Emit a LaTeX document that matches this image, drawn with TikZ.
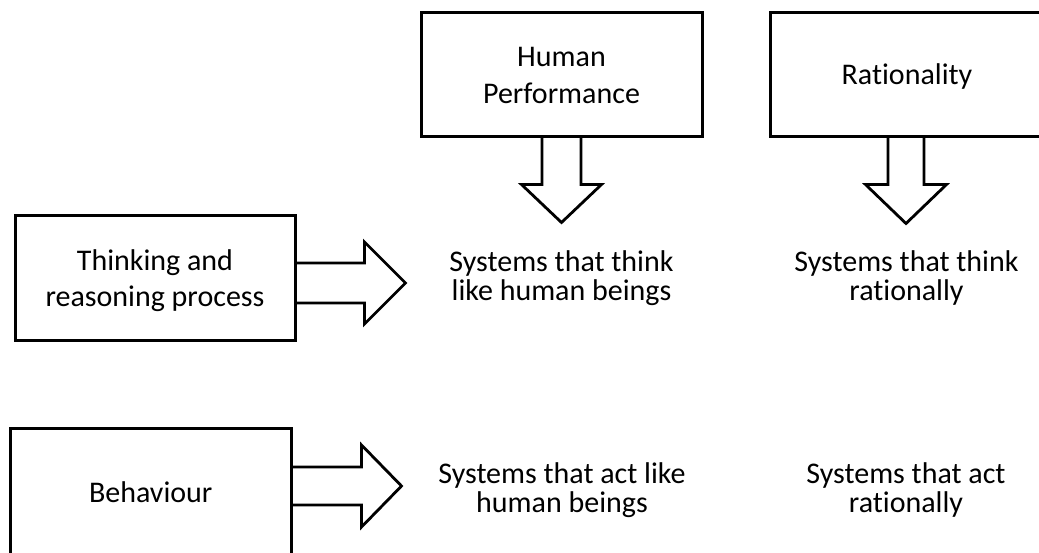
\documentclass[tikz,border=0pt]{standalone}
\usepackage{fontspec}
\setmainfont{Carlito}[Ligatures=NoCommon]
\usetikzlibrary{calc}
\newcommand\bxstrut{\rule[-7.5pt]{0pt}{36.6pt}}
\newcommand\frstrut{\rule[-7.5pt]{0pt}{29.5pt}}
\tikzset{
  box/.style={draw, line width=3pt, align=center, inner sep=0pt,
    font=\fontsize{30}{36.6}\selectfont},
  freetext/.style={align=center, inner sep=0pt,
    font=\fontsize{30}{29.5}\selectfont},
  blockarrow/.style={draw, line width=2.8pt, line join=miter}
}
\begin{document}
\begin{tikzpicture}[x=1pt,y=-1pt]
\useasboundingbox (0,0) rectangle (1039,552);
% boxes
\node[box, minimum width=281pt, minimum height=124pt] (hp) at (561.5,74)
  {\bxstrut Human\\\bxstrut Performance};
\node[box, minimum width=274pt, minimum height=124pt] (rat) at (907,74)
  {\bxstrut Rationality};
\node[box, minimum width=280pt, minimum height=125pt] (th) at (155,277.5)
  {\bxstrut Thinking and\\\bxstrut reasoning process};
\node[box, minimum width=281.5pt, minimum height=127pt] (beh) at (150.75,491.5)
  {\bxstrut Behaviour};
% free texts
\node[freetext] (t1) at (561.5,278.5) {\frstrut Systems that think\\\frstrut like human beings};
\node[freetext] (t2) at (906.5,278.5) {\frstrut Systems that think\\\frstrut rationally};
\node[freetext] (t3) at (562,490.5) {\frstrut Systems that act like\\\frstrut human beings};
\node[freetext] (t4) at (906,490.5) {\frstrut Systems that act\\\frstrut rationally};
% block arrows
\draw[blockarrow] ($(hp.south)+(-19.5,0)$) -- ++(0,47) -- ++(-20.5,0) -- ++(40,38)
  -- ++(40,-38) -- ++(-20.5,0) -- ++(0,-47);
\draw[blockarrow] ($(rat.south)+(-19,0)$) -- ++(0,47) -- ++(-22.5,0) -- ++(40.5,39)
  -- ++(40.5,-39) -- ++(-22.5,0) -- ++(0,-47);
\draw[blockarrow] ($(th.east)+(0,-14.5)$) -- ++(68,0) -- ++(0,-21) -- ++(41,41)
  -- ++(-41,41) -- ++(0,-21) -- ++(-68,0);
\draw[blockarrow] ($(beh.east)+(0,-24.5)$) -- ++(68.5,0) -- ++(0,-22) -- ++(40,41)
  -- ++(-40,41) -- ++(0,-22) -- ++(-68.5,0);
\end{tikzpicture}
\end{document}
